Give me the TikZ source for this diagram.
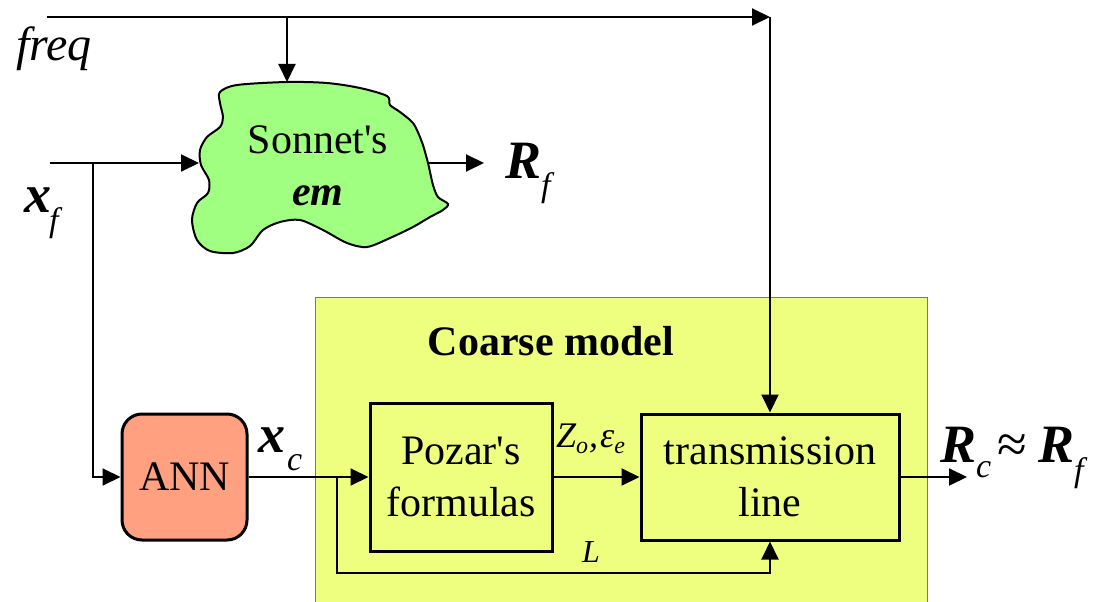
\documentclass[tikz,border=0pt]{standalone}
\usepackage{fontspec}
\setmainfont{Liberation Serif}
\usetikzlibrary{arrows.meta,calc}
\definecolor{cloudgreen}{RGB}{160,255,128}
\definecolor{coarseyellow}{RGB}{238,255,128}
\definecolor{annsalmon}{RGB}{255,160,128}
\definecolor{edgegray}{RGB}{120,120,120}
\newcommand{\fsmain}{\fontsize{42}{52}\selectfont}
\newcommand{\fsbig}{\fontsize{54}{60}\selectfont}
\newcommand{\fssub}{\fontsize{34}{40}\selectfont}
\newcommand{\fsmid}{\fontsize{36}{40}\selectfont}
\newcommand{\fstiny}{\fontsize{24}{28}\selectfont}
% bold italic symbol with a medium italic subscript: #1 symbol, #2 kern, #3 drop, #4 subscript
\newcommand{\symsub}[4]{#1\kern#2\raisebox{-#3}{\fssub\mdseries\itshape #4}}
\begin{document}
\begin{tikzpicture}[x=1pt,y=-1pt,
  conn/.style={line width=2pt,-{Triangle[length=18pt,width=17pt]}},
  blk/.style={draw,line width=3pt,align=center,inner sep=0pt,font=\fsmain},
  lbl/.style={anchor=base west,inner sep=0pt},
  bigsym/.style={lbl,font=\fsbig\bfseries\itshape}]
\useasboundingbox (0,0) rectangle (1108,602);

% coarse model frame
\fill[coarseyellow] (315,297) rectangle (927,602);
\draw[edgegray,line width=1pt] (315,602) -- (315,297) -- (927,297) -- (927,602);
\node[anchor=base,inner sep=0pt,font=\fsmain\bfseries] (coarse) at (551,355) {Coarse model};

% cloud (Sonnet's em)
\draw[fill=cloudgreen,line width=2pt] plot[smooth cycle,tension=0.5] coordinates {
 (220,92) (237,85) (287,82) (327,83) (360,88) (387,96) (390,105) (400,112)
 (413,123) (420,137) (423,145) (428,163) (433,185) (438,197) (448,204)
 (443,210) (430,217) (413,227) (390,238) (367,247) (347,243) (323,230)
 (300,220) (280,222) (263,230) (250,246) (233,253) (210,251) (197,240)
 (192,220) (197,203) (208,193) (209,180) (201,165) (200,150) (207,137)
 (220,127) (223,117) (220,103)};
\node[anchor=base,inner sep=0pt,font=\fsmain] (sonnet) at (318,153) {Sonnet\textquotesingle s};
\node[anchor=base,inner sep=0pt,font=\fsmain\bfseries\itshape] (em) at (318,205) {em};
\coordinate (cloudtop) at (287,82);
\coordinate (cloudleft) at (199,163);
\coordinate (cloudright) at (428,163);

% blocks
\node[blk,fill=annsalmon,rounded corners=20pt,minimum width=125pt,minimum height=126pt] (ann) at (184.5,477) {ANN};
\node[blk,minimum width=182pt,minimum height=148pt] (poz) at (461,477) {Pozar\textquotesingle s\\formulas};
\node[blk,minimum width=258pt,minimum height=126pt] (tl) at (770,477) {transmission\\line};

% coordinates of free ends and bends
\coordinate (fin) at (47,17);
\coordinate (fbr) at (287,17);
\coordinate (fcorner) at (770,17);
\coordinate (xin) at (50,163);
\coordinate (xbr) at (93,163);
\coordinate (rfout) at (484,163);
\coordinate (lbr) at (337,477);
\coordinate (lbot) at (337,573);
\coordinate (rcout) at (967,477);

% connectors
\draw[conn] (fin) -- (fcorner);
\draw[conn] (fcorner) -- (tl.north);
\draw[conn] (fbr) -- (cloudtop);
\draw[conn] (xin) -- (cloudleft);
\draw[conn] (xbr) |- (ann.west);
\draw[conn] (cloudright) -- (rfout);
\draw[conn] (ann.east) -- (poz.west);
\draw[conn] (poz.east) -- (tl.west);
\draw[conn] (lbr) -- (lbot) -| (tl.south);
\draw[conn] (tl.east) -- (rcout);

% labels
\node[lbl,font=\fontsize{48}{52}\selectfont\itshape] (freq) at (16,60) {freq};
\node[bigsym] (xf) at (24,212) {\symsub{x}{-2pt}{19pt}{f}};
\node[bigsym] (rf) at (505,178) {\symsub{R}{0pt}{18pt}{f}};
\node[bigsym] (xc) at (258,452) {\symsub{x}{2pt}{18pt}{c}};
\node[lbl,font=\fsmid\itshape] (zo) at (556,447) {Z\raisebox{-6pt}{\fstiny\itshape o}\kern1pt,\kern2pt ε\raisebox{-6pt}{\fstiny\itshape e}};
\node[lbl,font=\fontsize{32}{36}\selectfont\itshape] (lL) at (582,562) {L};
\node[bigsym] (rc) at (940,462) {\symsub{R}{0pt}{15pt}{c}};
\node[lbl,font=\fsbig] (approx) at (997,462) {≈};
\node[bigsym] (rf2) at (1038,462) {\symsub{R}{0pt}{19pt}{f}};
\end{tikzpicture}
\end{document}
